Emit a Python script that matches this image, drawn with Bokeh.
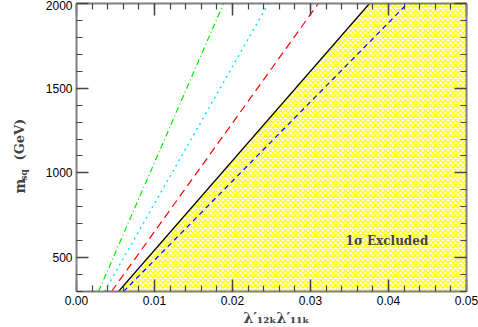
import math
from bokeh.plotting import figure
from bokeh.models import (LinearAxis, FixedTicker, NumeralTickFormatter, Label, Range1d)
from bokeh.embed import file_html
from bokeh.resources import INLINE

# ---- data ----
m_ends = [300, 2000]                      # m_sq (GeV) at the ends of each line
lam_green = [0.00282, 0.01885]            # dash-dot
lam_cyan = [0.00359, 0.02460]             # dotted
lam_red = [0.00449, 0.03100]              # dashed
lam_black = [0.00538, 0.03756]            # solid (1 sigma limit)
lam_blue = [0.00603, 0.04244]             # dashed
x_ticks = [0.00, 0.01, 0.02, 0.03, 0.04, 0.05]
y_ticks = [500, 1000, 1500, 2000]
x_min, x_max = 0.0, 0.05
y_min, y_max = 300, 2000

p = figure(width=478, height=327, output_backend="svg", toolbar_location=None,
           x_range=Range1d(x_min, x_max), y_range=Range1d(y_min, y_max),
           x_axis_type=None, y_axis_type=None,
           min_border_left=76, min_border_right=12, min_border_top=3, min_border_bottom=36)
p.outline_line_color = None
p.xgrid.visible = False
p.ygrid.visible = False

# excluded region (right of the black line)
p.patch(x=[lam_black[0], lam_black[1], x_max, x_max],
        y=[m_ends[0], m_ends[1], y_max, y_min],
        fill_color="white", line_color=None,
        hatch_pattern="diagonal_cross", hatch_color="#ffff00",
        hatch_scale=5, hatch_weight=1.4)

p.line(lam_green, m_ends, line_color="#00ee00", line_width=1.2, line_dash="6 3 1 3")
p.line(lam_cyan, m_ends, line_color="#00e5ff", line_width=1.4, line_dash="2 4")
p.line(lam_red, m_ends, line_color="#ff0000", line_width=1.2, line_dash="8 5")
p.line(lam_black, m_ends, line_color="black", line_width=1.2)
p.line(lam_blue, m_ends, line_color="#0000ff", line_width=1.2, line_dash="5 4")

xminor = [round(i * 0.002, 4) for i in range(0, 26)]
yminor = list(range(300, 2001, 100))

def style(ax, labels, ticks):
    ax.axis_line_color = "#808080"
    ax.axis_line_width = 2
    ax.major_tick_in = 12
    ax.major_tick_out = 0
    ax.minor_tick_in = 6
    ax.minor_tick_out = 0
    ax.major_tick_line_color = "#444444"
    ax.minor_tick_line_color = "#444444"
    ax.major_tick_line_width = 1.5
    ax.minor_tick_line_width = 1.2
    ax.major_label_text_font = "Liberation Sans"
    ax.major_label_text_font_size = "12px"
    ax.major_label_text_color = "black"
    if labels:
        ax.major_label_standoff = 5
    else:
        ax.major_label_overrides = {t: "" for t in ticks}
        ax.major_label_standoff = 0

xb = LinearAxis(ticker=FixedTicker(ticks=x_ticks, minor_ticks=xminor),
                formatter=NumeralTickFormatter(format="0.00"))
xt = LinearAxis(ticker=FixedTicker(ticks=x_ticks, minor_ticks=xminor))
yl = LinearAxis(ticker=FixedTicker(ticks=y_ticks, minor_ticks=yminor))
yr = LinearAxis(ticker=FixedTicker(ticks=y_ticks, minor_ticks=yminor))
style(xb, True, x_ticks); style(yl, True, y_ticks)
style(xt, False, x_ticks); style(yr, False, y_ticks)
yl.major_label_standoff = 4
xb.major_label_standoff = 4
p.add_layout(xb, "below")
p.add_layout(xt, "above")
p.add_layout(yl, "left")
p.add_layout(yr, "right")

serif = "DejaVu Serif"
p.add_layout(Label(x=0.0345, y=600, text="1σ Excluded", text_font=serif,
                   text_font_style="bold", text_font_size="12px",
                   text_baseline="middle", text_align="left"))

# pixel -> data helpers (frame: left 76, right 466, top 3, bottom 291)
def px2x(px):
    return x_min + (px - 76) * (x_max - x_min) / 390.0

def py2y(py):
    return y_max - (py - 3) * (y_max - y_min) / 288.0

# x axis label (side panel label, so it is not clipped by the frame)
p.add_layout(Label(x=px2x(243), y=py2y(317), text="λ′₁₂ₖλ′₁₁ₖ", text_font=serif,
                   text_font_style="bold", text_font_size="14px",
                   text_baseline="alphabetic", text_align="left"), "below")

# y axis label: m_sq (GeV), rotated
p.add_layout(Label(x=px2x(19), y=py2y(193), text="m", angle=math.pi / 2, text_font=serif,
                   text_font_style="bold", text_font_size="14px",
                   text_baseline="alphabetic", text_align="left"), "left")
p.add_layout(Label(x=px2x(19), y=py2y(160), text="(GeV)", angle=math.pi / 2, text_font=serif,
                   text_font_style="bold", text_font_size="13px",
                   text_baseline="alphabetic", text_align="left"), "left")
p.add_layout(Label(x=px2x(23), y=py2y(180), text="sq", angle=math.pi / 2, text_font=serif,
                   text_font_style="bold", text_font_size="9px",
                   text_baseline="alphabetic", text_align="left"), "right")

open("out.html", "w").write(file_html(p, INLINE))
